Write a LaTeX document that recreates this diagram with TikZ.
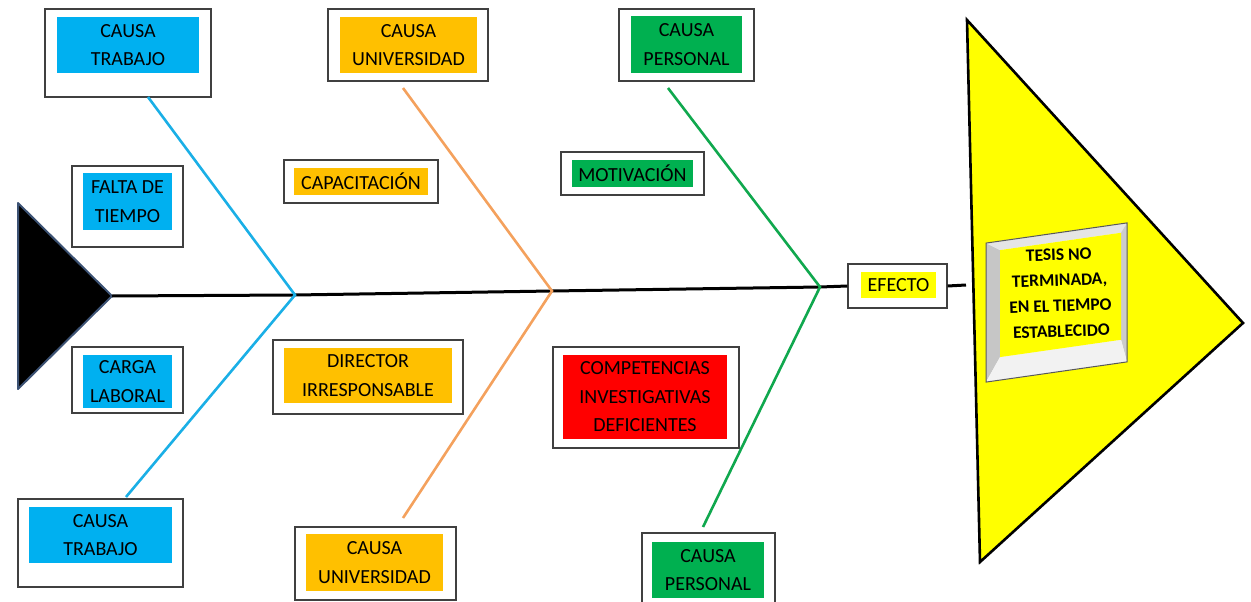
\documentclass[tikz,border=0pt]{standalone}
\usepackage{fontspec}
\setmainfont{Carlito}
\definecolor{cyanbox}{HTML}{00B0F0}
\definecolor{orangebox}{HTML}{FFC000}
\definecolor{greenbox}{HTML}{00B050}
\definecolor{redbox}{HTML}{FF0000}
\definecolor{ybox}{HTML}{FFFF00}
\definecolor{blueline}{HTML}{1AAFE6}
\definecolor{orangeline}{HTML}{F4A15D}
\definecolor{greenline}{HTML}{10A84E}
\definecolor{headedge}{HTML}{3C5274}
\definecolor{framegray}{HTML}{404040}
\tikzset{
  frame/.style={draw=framegray, line width=1.3pt, fill=white, inner sep=0pt},
  label/.style={inner sep=0pt, align=center, text=black,
     font=\fontsize{20}{28.5}\selectfont},
  bone/.style={line width=2.6pt},
  spine/.style={line width=3pt, black},
}
\begin{document}
\begin{tikzpicture}[x=1pt,y=-1pt]
\useasboundingbox (0,0) rectangle (1251,602);
\clip (0,0) rectangle (1251,602);

% bone coordinates
\coordinate (tip) at (112,296);
\coordinate (j1) at (295,295);
\coordinate (j2) at (552,291);
\coordinate (j3) at (820,287);
\coordinate (bt) at (148,97);
\coordinate (bb) at (126,497);
\coordinate (ot) at (403,88);
\coordinate (ob) at (403,518);
\coordinate (gt) at (668,88);
\coordinate (gb) at (703,527);
\coordinate (spend) at (966,285);

% head (fish tail) triangle
\draw[fill=black, draw=headedge, line width=2pt, line join=round]
  (18,203) -- (tip) -- (18,389) -- cycle;

% big yellow triangle
\draw[fill=ybox, draw=black, line width=2.6pt, line join=miter]
  (967,20) -- (1243,323) -- (980,562) -- cycle;

% boxes
\node[frame, minimum width=166, minimum height=88] (ct1o) at (128,53) {};
\node[label, fill=cyanbox, minimum width=142, minimum height=56] (ct1) at (128,45) {CAUSA\\TRABAJO};

\node[frame, minimum width=111, minimum height=81] (fto) at (127.5,206.5) {};
\node[label, fill=cyanbox, minimum width=89, minimum height=57] (ft) at (127.5,201.5) {FALTA DE\\TIEMPO};

\node[frame, minimum width=111, minimum height=66] (clo) at (127.5,380) {};
\node[label, fill=cyanbox, minimum width=89, minimum height=53] (cl) at (127.5,381.5) {CARGA\\LABORAL};

\node[frame, minimum width=165, minimum height=88] (ct2o) at (100.5,543) {};
\node[label, fill=cyanbox, minimum width=143, minimum height=56] (ct2) at (100.5,535) {CAUSA\\TRABAJO};

\node[frame, minimum width=160, minimum height=72] (cu1o) at (408,45) {};
\node[label, fill=orangebox, minimum width=137, minimum height=56] (cu1) at (408.5,45) {CAUSA\\UNIVERSIDAD};

\node[frame, minimum width=154, minimum height=43] (capo) at (361,181.5) {};
\node[label, fill=orangebox, minimum width=134, minimum height=27] (cap) at (361,181.5) {CAPACITACIÓN};

\node[frame, minimum width=190, minimum height=74] (diro) at (368,377) {};
\node[label, fill=orangebox, minimum width=168, minimum height=55] (dir) at (368,375.5) {DIRECTOR\\IRRESPONSABLE};

\node[frame, minimum width=161, minimum height=73] (cu2o) at (375.5,563.5) {};
\node[label, fill=orangebox, minimum width=137, minimum height=57] (cu2) at (374.5,562.5) {CAUSA\\UNIVERSIDAD};

\node[frame, minimum width=135, minimum height=72] (cp1o) at (686.5,45) {};
\node[label, fill=greenbox, minimum width=111, minimum height=57] (cp1) at (686.5,44.5) {CAUSA\\PERSONAL};

\node[frame, minimum width=143, minimum height=43] (moto) at (632.5,173.5) {};
\node[label, fill=greenbox, minimum width=121, minimum height=27] (mot) at (632.5,173.5) {MOTIVACIÓN};

\node[frame, minimum width=186, minimum height=101] (compo) at (646,397.5) {};
\node[label, fill=redbox, minimum width=164, minimum height=84] (comp) at (645,397) {COMPETENCIAS\\INVESTIGATIVAS\\DEFICIENTES};

\node[frame, minimum width=133, minimum height=79] (cp2o) at (708.5,572.5) {};
\node[label, fill=greenbox, minimum width=112, minimum height=56] (cp2) at (708,570) {CAUSA\\PERSONAL};

\node[frame, minimum width=99, minimum height=44] (efeo) at (897.5,286) {};
\node[label, fill=ybox, minimum width=75, minimum height=26] (efe) at (898.5,285) {EFECTO};

% spine
\draw[spine] (tip) -- (j1) -- (j2) -- (j3) -- (efeo.west);
\draw[spine] (efeo.east) -- (spend);

% bones
\draw[bone, blueline, line join=miter] (bt) -- (j1) -- (bb);
\draw[bone, orangeline, line join=miter] (ot) -- (j2) -- (ob);
\draw[bone, greenline, line join=miter] (gt) -- (j3) -- (gb);

% bevelled effect box (slightly skewed)
\begin{scope}[shift={(1056.5,302.5)}, yslant=0.143]
  \fill[white] (-70.5,-69.5) rectangle (70.5,69.5);
  \fill[gray!45] (-70.5,-69.5) -- (-56.5,-60.5) -- (-56.5,46.5) -- (-70.5,69.5) -- cycle;
  \fill[gray!20] (-70.5,-69.5) -- (70.5,-69.5) -- (64.5,-60.5) -- (-56.5,-60.5) -- cycle;
  \fill[gray!40] (70.5,-69.5) -- (70.5,69.5) -- (64.5,46.5) -- (64.5,-60.5) -- cycle;
  \fill[gray!10] (-70.5,69.5) -- (70.5,69.5) -- (64.5,46.5) -- (-56.5,46.5) -- cycle;
  \fill[ybox] (-56.5,-60.5) rectangle (64.5,46.5);
  \draw[gray!70!black, line width=1pt] (-70.5,-69.5) rectangle (70.5,69.5);
\end{scope}
\node[inner sep=0pt, align=center, rotate=2,
      font=\bfseries\fontsize{17.5}{25.5}\selectfont] (efecto) at (1060,293)
      {TESIS NO\\TERMINADA,\\EN EL TIEMPO\\ESTABLECIDO};
\end{tikzpicture}
\end{document}
